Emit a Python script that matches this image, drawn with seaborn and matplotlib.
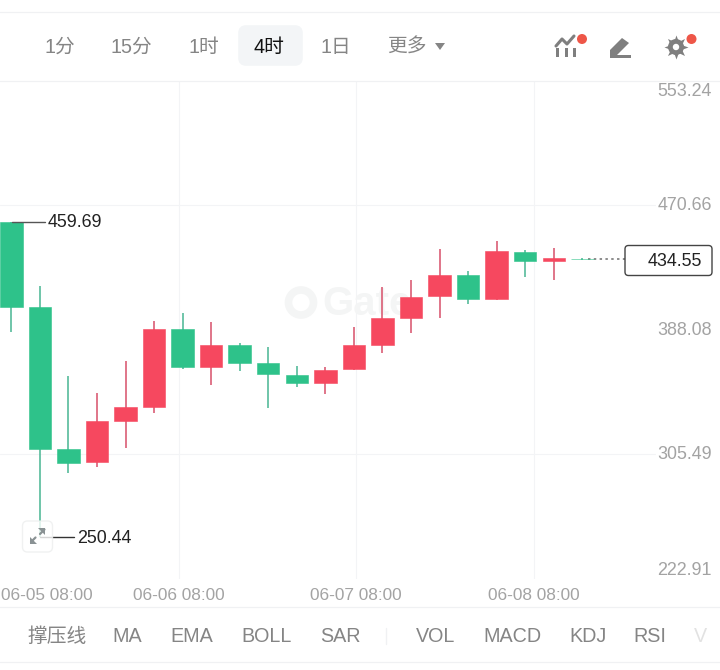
import matplotlib
matplotlib.use("Agg")
import matplotlib.pyplot as plt
from matplotlib.patches import FancyBboxPatch, Circle, Polygon, Rectangle
import pandas as pd
import seaborn as sns

sns.set_theme(style="white")
plt.rcParams["font.family"] = ["Liberation Sans", "Noto Sans CJK SC", "DejaVu Sans"]

# Four-hour candles, oldest first
opens = [459.69, 403.0, 308.6, 300.0, 327.4, 336.7, 388.2, 363.2, 378.0, 365.7, 358.1,
         352.4, 361.9, 377.6, 395.7, 410.3, 424.0, 408.1, 439.5, 433.5, 435.0]
closes = [403.2, 308.6, 299.7, 327.4, 336.9, 388.2, 363.0, 378.0, 365.7, 358.4, 352.6,
          361.2, 377.6, 395.7, 409.8, 424.0, 408.1, 440.0, 433.5, 435.3, 434.55]
highs = [459.69, 416.9, 357.4, 346.2, 367.2, 393.9, 399.2, 393.0, 379.1, 376.5, 363.9,
         363.2, 389.5, 416.1, 420.9, 441.7, 426.9, 446.6, 440.6, 442.2, 435.4]
lows = [386.2, 250.44, 293.1, 296.7, 309.7, 332.9, 362.1, 351.1, 360.8, 336.2, 350.1,
        345.5, 361.4, 372.7, 385.8, 395.5, 405.2, 407.4, 422.9, 420.9, 434.2]

price_ticks = [553.24, 470.66, 388.08, 305.49, 222.91]
price_grid = [470.66, 305.49]
date_pos = [-0.36, 5.86, 12.08, 18.31]
date_labels = ["06-05 08:00", "06-06 08:00", "06-07 08:00", "06-08 08:00"]
last_price = 434.55
period_tabs = ["1分", "15分", "1时", "4时", "1日", "更多"]
period_x = [60, 131, 204, 269, 336, 407]
indicator_tabs = ["撑压线", "MA", "EMA", "BOLL", "SAR", "VOL", "MACD", "KDJ", "RSI"]
indicator_x = [57.5, 127, 192, 267, 340, 436, 512, 588, 650]

GREEN, RED = "#2EC28A", "#F6485F"
GREEN_WICK, RED_WICK = "#4FB896", "#D9566F"
GRID = "#F3F4F6"
TICK = "#A3A3A3"
TAB = "#858585"
PX = 28.55
X0 = 11.3

fig = plt.figure(figsize=(7.2, 6.7), dpi=100, facecolor="white")
ax = fig.add_axes([0, (670 - 578.5) / 670, 1, (578.5 - 80.5) / 670])
ax.set_xlim(-X0 / PX, (720 - X0) / PX)
ax.set_ylim(price_ticks[-1], price_ticks[0])
sns.despine(ax=ax, left=True, bottom=True, right=True, top=True)

# Grid; the first date sits on the left edge and has no visible rule
for p in date_pos[1:]:
    ax.axvline(p, color=GRID, lw=0.8, zorder=1)
for p in price_grid:
    ax.axhline(p, xmax=655 / 720, color=GRID, lw=0.8, zorder=1)

# Faint watermark behind the candles
wm = fig.dpi_scale_trans
ax.text(322 / 100, (670 - 304) / 100, "Gate", transform=wm, fontsize=29, fontweight="bold",
        color="#F4F5F5", va="center", ha="left", zorder=1.5)
ax.add_patch(Circle((301 / 100, (670 - 302.5) / 100), 12.5 / 100, transform=wm, fill=False,
                    ec="#F4F5F5", lw=5.5, zorder=1.5))

# Candles: wicks first, bodies on top
idx = list(range(len(opens)))
falling = [c < o for o, c in zip(opens, closes)]
wicks = pd.DataFrame({
    "candle": idx * 2,
    "price": highs + lows,
    "side": [("down" if f else "up") for f in falling] * 2,
})
sns.lineplot(data=wicks, x="candle", y="price", units="candle", estimator=None, hue="side",
             palette={"down": GREEN_WICK, "up": RED_WICK}, hue_order=["down", "up"], sort=False,
             linewidth=1.15, legend=False, ax=ax, zorder=2, solid_capstyle="butt")
for i, o, c, f in zip(idx, opens, closes, falling):
    col = GREEN if f else RED
    ax.bar(i, abs(c - o), bottom=min(o, c), width=0.785, color=col, edgecolor=col,
           linewidth=0.4, zorder=3)
ax.set_xlabel("")
ax.set_ylabel("")

# Date ticks
ax.set_xticks(date_pos, date_labels)
ax.tick_params(axis="x", length=0, pad=7, labelsize=12.4, labelcolor=TICK)
ax.tick_params(axis="y", left=False, labelleft=False)
ax.get_xticklabels()[0].set_ha("left")

# Price scale along the right edge; the outer labels are tucked inside the plot
ytrans = ax.get_yaxis_transform()
label_shift = [-8.0, -0.2, -0.6, -0.2, 5.8]
for p, dy in zip(price_ticks, label_shift):
    ax.annotate(f"{p:.2f}", xy=(712 / 720, p), xycoords=ytrans, xytext=(0, dy),
                textcoords="offset points", ha="right", va="center", fontsize=12.9,
                color=TICK, zorder=6)

# Last-price leader
ax.plot([20.2, (625 - X0) / PX], [last_price, last_price], color="#6E6E6E", lw=1.1,
        ls=(0, (1.6, 2.2)), zorder=2.5)

# Extreme price call-outs
ax.plot([0.03, (45 - X0) / PX], [highs[0], highs[0]], color="#555555", lw=1, zorder=6)
ax.plot([1.0, (74 - X0) / PX], [lows[1], lows[1]], color="#333333", lw=1, zorder=6)
ax.annotate(f"{highs[0]:.2f}", xy=((48 - X0) / PX, highs[0]), xytext=(0, -0.6),
            textcoords="offset points", fontsize=12.9, color="#222222", va="center", ha="left",
            zorder=6)
ax.annotate(f"{lows[1]:.2f}", xy=((77 - X0) / PX, lows[1]), xytext=(0, -1.4),
            textcoords="offset points", fontsize=12.9, color="#222222", va="center", ha="left",
            zorder=6)

# Toolbar, tab bar and floating controls share a pixel-based overlay
ui = fig.add_axes([0, 0, 1, 1], zorder=5)
ui.set_xlim(0, 720)
ui.set_ylim(670, 0)
ui.axis("off")
ui.patch.set_alpha(0)

for y in (11.5, 80.5, 607, 662):
    ui.plot([0, 720], [y, y], color="#F0F1F3", lw=0.9)

ui.add_patch(FancyBboxPatch((241, 28), 59, 35, boxstyle="round,pad=0,rounding_size=5",
                            fc="#F3F5F7", ec="#F3F5F7", lw=4))
for name, x in zip(period_tabs, period_x):
    active = name == "4时"
    ui.text(x, 47, name, ha="center", va="center", fontsize=14.2,
            color="#111111" if active else TAB)
ui.add_patch(Polygon([(435, 43), (445, 43), (440, 50)], fc="#858585", ec="none"))

for name, x in zip(indicator_tabs, indicator_x):
    ui.text(x, 636, name, ha="center", va="center", fontsize=14.2, color=TAB)
ui.text(700, 636, "V", ha="center", va="center", fontsize=14.2, color="#E2E2E2")
ui.plot([386, 386], [628, 644], color="#F0F1F3", lw=1)

# Indicator icon
ICON = "#7F7F7F"
for x in (557.5, 566, 574):
    ui.add_patch(Rectangle((x - 1.5, 48), 3, 9, fc=ICON, ec="none"))
ui.plot([556, 562, 567, 574], [46, 39, 44, 36], color=ICON, lw=2.2)
ui.add_patch(Circle((582, 39), 5, fc="#EE5648", ec="none", zorder=4))

# Pencil icon
ui.add_patch(Polygon([(610, 50), (622, 38), (629, 43), (617, 55), (610, 55)], fc=ICON, ec="none"))
ui.add_patch(Rectangle((610, 54.5), 21, 3, fc=ICON, ec="none"))

# Gear icon
ui.scatter([676], [47], s=300, marker=(8, 1, 0), c=ICON, linewidths=0)
ui.add_patch(Circle((676, 47), 8, fc=ICON, ec="none"))
ui.add_patch(Circle((676, 47), 3.2, fc="white", ec="none"))
ui.add_patch(Circle((691.5, 39), 5, fc="#EE5648", ec="none", zorder=4))

# Last-price tag
ui.add_patch(FancyBboxPatch((625, 245.5), 87, 30, boxstyle="round,pad=0,rounding_size=3.5",
                            fc="white", ec="#444444", lw=1))
ui.text(701.5, 262, f"{last_price:.2f}", ha="right", va="center", fontsize=12.9, color="#222222")

# Expand button with two outward arrows
ui.add_patch(FancyBboxPatch((22.5, 521), 30, 31, boxstyle="round,pad=0,rounding_size=5",
                            fc="white", ec="#EDEEEE", lw=1, alpha=0.8))
ARROW = "#8A9294"
ui.plot([31, 35.5], [542, 537.5], color=ARROW, lw=1.6)
ui.add_patch(Polygon([(30, 537), (30, 544), (37, 544)], fc=ARROW, ec="none"))
ui.plot([44.5, 40], [529.5, 534], color=ARROW, lw=1.6)
ui.add_patch(Polygon([(45, 528), (38, 528), (45, 535)], fc=ARROW, ec="none"))

fig.savefig("out.png", dpi=100, facecolor="white")
